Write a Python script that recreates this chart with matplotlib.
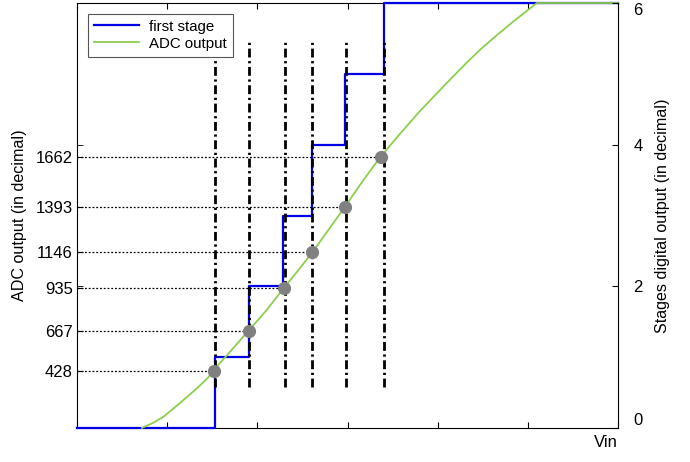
import numpy as np
import matplotlib
matplotlib.use("Agg")
import matplotlib.pyplot as plt
from matplotlib.ticker import FixedLocator

plt.rcParams['font.family'] = ['Liberation Sans', 'DejaVu Sans']
plt.rcParams['font.size'] = 12

# first stage digital output (step edges, held value)
step_x = [0.0, 1.53, 1.91, 2.29, 2.61, 2.97, 3.40, 6.0]
step_y = [0, 1, 2, 3, 4, 5, 6, 6]

# ADC output curve
adc_x = [0.72, 0.84, 0.96, 1.14, 1.33, 1.46, 1.51, 1.70, 1.90, 2.10, 2.29, 2.45,
         2.61, 2.79, 2.97, 3.16, 3.36, 3.58, 3.80, 4.10, 4.30, 4.47, 4.66,
         4.84, 4.97, 5.10, 6.0]
adc_y = [0.0, 0.07, 0.16, 0.35, 0.56, 0.72, 0.81, 1.08, 1.37, 1.66, 1.97, 2.22,
         2.48, 2.80, 3.12, 3.47, 3.82, 4.15, 4.47, 4.87, 5.13, 5.34, 5.55,
         5.74, 5.87, 6.0, 6.0]

# sampled points and their decimal codes
pt_x = [1.52, 1.91, 2.30, 2.61, 2.97, 3.37]
pt_y = [0.81, 1.37, 1.97, 2.48, 3.12, 3.82]
pt_codes = ["428", "667", "935", "1146", "1393", "1662"]

# vertical marker lines
vl_x = [1.534, 1.911, 2.310, 2.610, 2.980, 3.404]
vl_lo, vl_hi = 0.58, 5.48

right_ticks = [0, 2, 4, 6]

fig = plt.figure(figsize=(6.9, 4.62), dpi=100)
ax = fig.add_axes([77/690, 34/462, 541/690, 425/462])

# dotted guides from left axis to points
for x, y in zip(pt_x, pt_y):
    ax.plot([0, x], [y, y], color='black', lw=0.9, linestyle=(0, (1.5, 1.5)), zorder=1)

ax.step(step_x, step_y, where='post', color='#0000e6', lw=1.6,
        label='first stage', zorder=3, clip_on=False)
ax.plot(adc_x, adc_y, color='#8ccf4d', lw=1.3, label='ADC output',
        zorder=4, clip_on=False)

ax.vlines(vl_x, vl_lo, vl_hi, colors='black', lw=2.0,
          linestyles=[(0, (3.2, 1.3, 0.8, 1.3))], zorder=5)

ax.plot(pt_x, pt_y, 'o', color='#808080', markersize=8.5, zorder=6)

ax.set_xlim(0, 6)
ax.set_ylim(0, 6)
ax.set_xticks(range(7))
ax.tick_params(axis='x', direction='in', top=True, labelbottom=False, length=4)
ax.set_yticks(pt_y)
ax.set_yticklabels(pt_codes)
ax.yaxis.set_minor_locator(FixedLocator(right_ticks))
ax.tick_params(axis='y', which='both', direction='in', length=4, pad=3)
ax.spines['right'].set_visible(False)
ax.set_ylabel('ADC output (in decimal)', labelpad=6, fontsize=11.6)
ax.set_xlabel('Vin', loc='right', labelpad=5)

leg = ax.legend(loc='upper left', bbox_to_anchor=(0.02, 0.975), borderaxespad=0,
                fancybox=False, framealpha=1, edgecolor='#555555',
                handlelength=3.0, fontsize=10.8, borderpad=0.4, labelspacing=0.2,
                handletextpad=0.7)
leg.get_frame().set_linewidth(0.8)

ax2 = ax.twinx()
ax2.set_position(ax.get_position())
ax2.set_ylim(0, 6)
ax2.set_yticks(right_ticks)
ax2.tick_params(axis='y', direction='in', length=4, pad=11)
for s in ['top', 'bottom', 'left']:
    ax2.spines[s].set_visible(False)
ax2.set_ylabel('Stages digital output (in decimal)', labelpad=9, fontsize=11.6)
labs = ax2.get_yticklabels()
labs[0].set_verticalalignment('bottom')
labs[-1].set_verticalalignment('top')

fig.savefig('out.png', dpi=100)
